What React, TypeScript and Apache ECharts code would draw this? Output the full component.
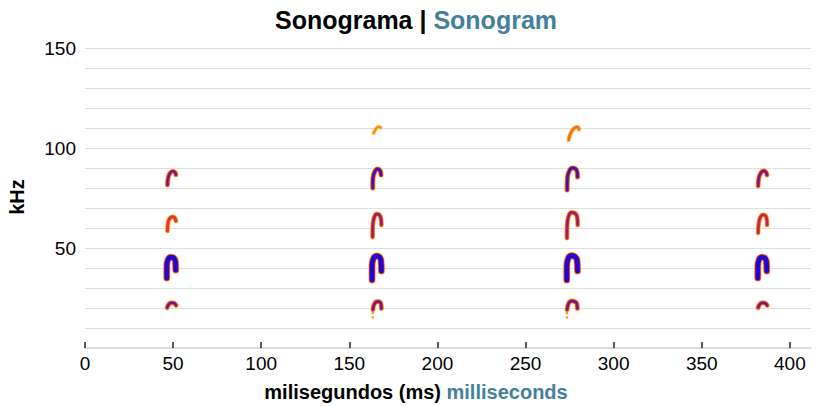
import React, { useEffect, useRef } from "react";
import * as echarts from "echarts";

// axis ticks
const xTicks = [0, 50, 100, 150, 200, 250, 300, 350, 400];
const yLabelValues = [50, 100, 150];

// contours of each harmonic, one per pulse: [ms, kHz]
const harmonic1 = [
  [[46.6, 20.2], [47.6, 21.9], [49.0, 22.6], [50.6, 22.4], [51.7, 21.3]],
  [[163.4, 19.2], [164.2, 22.0], [165.8, 23.2], [167.3, 23.0], [168.1, 21.5], [168.2, 19.8]],
  [[273.6, 19.2], [274.5, 22.4], [276.3, 23.5], [278.0, 23.2], [279.2, 22.0], [279.4, 19.8]],
  [[382.0, 20.2], [383.0, 21.9], [384.4, 22.6], [386.0, 22.4], [387.1, 21.3]],
];
const harmonic1Tails = [
  [[163.3, 14.8], [163.3, 19.0]],
  [[273.5, 14.8], [273.5, 19.0]],
];
const harmonic2 = [
  [[46.4, 35.0], [46.4, 41.0], [47.1, 44.2], [48.7, 45.4], [50.4, 45.0], [51.3, 43.2], [51.5, 39.0]],
  [[162.9, 34.0], [162.9, 41.0], [163.6, 44.5], [165.3, 46.0], [167.0, 45.6], [168.0, 43.6], [168.2, 38.5]],
  [[273.4, 34.0], [273.4, 41.0], [274.2, 44.8], [276.0, 46.2], [277.8, 45.8], [279.2, 44.0], [279.5, 38.5]],
  [[381.8, 35.0], [381.8, 41.0], [382.5, 44.2], [384.1, 45.4], [385.8, 45.0], [386.7, 43.2], [386.9, 38.5]],
];
const harmonic3 = [
  [[46.8, 58.5], [47.1, 62.5], [48.1, 64.8], [49.6, 65.6], [51.0, 65.0], [51.6, 63.5]],
  [[163.2, 55.5], [163.3, 61.0], [164.0, 65.0], [165.5, 67.0], [167.0, 66.6], [168.0, 64.5], [168.2, 61.5]],
  [[273.5, 55.0], [273.6, 61.0], [274.3, 65.5], [276.0, 67.8], [278.0, 67.4], [279.3, 65.5], [279.6, 61.5]],
  [[382.0, 57.5], [382.3, 62.0], [383.3, 65.5], [384.9, 66.6], [386.3, 66.0], [387.0, 63.5], [387.1, 61.5]],
];
const harmonic4 = [
  [[46.8, 81.5], [47.2, 85.2], [48.3, 87.5], [49.8, 88.4], [51.1, 87.8], [51.6, 86.6]],
  [[163.3, 80.0], [163.4, 85.0], [164.5, 88.3], [166.0, 89.5], [167.4, 88.8], [168.0, 86.5]],
  [[273.6, 79.0], [273.8, 85.0], [274.8, 88.5], [276.5, 90.0], [278.3, 89.6], [279.3, 88.0], [279.5, 85.5]],
  [[382.0, 81.0], [382.4, 85.0], [383.5, 87.5], [385.0, 88.6], [386.4, 88.0], [387.0, 86.5]],
];
const harmonic5 = [
  [[163.8, 107.5], [165.0, 109.4], [166.5, 110.6], [167.8, 110.2]],
  [[274.5, 104.0], [275.2, 106.5], [276.5, 108.8], [278.2, 110.3], [279.6, 110.5], [280.3, 109.3]],
];

// intensity level of each contour (1 weak .. 4 strongest)
const harmonic1Levels = [3, 3, 3, 3];
const harmonic2Levels = [4, 4, 4, 4];
const harmonic3Levels = [2, 2.5, 2.5, 2.2];
const harmonic4Levels = [3, 3.5, 3.5, 3];
const harmonic5Levels = [1, 1.5];

const FONT = "'Liberation Sans', Arial, Helvetica, sans-serif";
const TEAL = "#44809a";

type Layer = { w: number; c: string };
function layersFor(level: number): Layer[] {
  if (level <= 1) return [{ w: 3.8, c: "#fbbb3a" }, { w: 1.8, c: "#f7871f" }];
  if (level <= 1.5) return [{ w: 4.2, c: "#fbb02c" }, { w: 2.2, c: "#f26b21" }];
  if (level <= 2) return [{ w: 4.6, c: "#f9a825" }, { w: 3.0, c: "#e8342a" }];
  if (level <= 2.2) return [{ w: 4.6, c: "#f9a825" }, { w: 3.1, c: "#e0302c" }, { w: 1.0, c: "#9a2070" }];
  if (level <= 2.5) return [{ w: 4.8, c: "#f9a825" }, { w: 3.4, c: "#dc2a2f" }, { w: 1.4, c: "#7a1a90" }];
  if (level <= 3) return [{ w: 5, c: "#f9a825" }, { w: 3.6, c: "#dd2a2f" }, { w: 1.8, c: "#5a18a6" }];
  if (level <= 3.5) return [{ w: 5.2, c: "#f9a825" }, { w: 3.9, c: "#d9292f" }, { w: 2.4, c: "#3a0fc0" }];
  return [{ w: 7, c: "#f9a825" }, { w: 5.8, c: "#dc2a30" }, { w: 4.6, c: "#2006d6" }];
}

function buildSeries() {
  const groups: [number[][][], number[]][] = [
    [harmonic1, harmonic1Levels],
    [harmonic2, harmonic2Levels],
    [harmonic3, harmonic3Levels],
    [harmonic4, harmonic4Levels],
    [harmonic5, harmonic5Levels],
  ];
  const series: any[] = [];
  harmonic1Tails.forEach((pts) => {
    series.push({
      type: "line",
      data: pts,
      showSymbol: false,
      symbol: "none",
      silent: true,
      lineStyle: { width: 2.5, color: "#f7931e", type: [2, 2.5], cap: "butt" },
      z: 2,
    });
  });
  groups.forEach(([contours, levels]) => {
    contours.forEach((pts, i) => {
      layersFor(levels[i]).forEach((layer, li) => {
        series.push({
          type: "line",
          data: pts,
          smooth: 0.4,
          showSymbol: false,
          symbol: "none",
          silent: true,
          lineStyle: { width: layer.w, color: layer.c, cap: "round", join: "round" },
          z: 3 + li,
        });
      });
    });
  });
  return series;
}

export default function App() {
  const ref = useRef<HTMLDivElement>(null);
  useEffect(() => {
    document.body.style.margin = "0";
    if (!ref.current) return;
    const chart = echarts.init(ref.current, null, { renderer: "svg" });
    chart.setOption({
      animation: false,
      backgroundColor: "#ffffff",
      grid: { left: 85, right: 5, top: 48, bottom: 58, containLabel: false },
      xAxis: {
        type: "value",
        min: 0,
        max: 412,
        interval: 50,
        axisLine: { show: true, lineStyle: { color: "#d6d6d6", width: 1.5 } },
        axisTick: {
          show: true,
          inside: true,
          length: 6,
          customValues: xTicks,
          lineStyle: { color: "#222", width: 1.5 },
        },
        axisLabel: {
          customValues: xTicks,
          fontSize: 19,
          color: "#000",
          fontFamily: FONT,
          margin: 6,
        },
        splitLine: { show: false },
      },
      yAxis: {
        type: "value",
        min: 0,
        max: 150,
        interval: 10,
        axisLine: { show: false },
        axisTick: { show: false },
        axisLabel: {
          fontSize: 19,
          color: "#000",
          fontFamily: FONT,
          margin: 9,
          formatter: (v: number) => (yLabelValues.indexOf(v) >= 0 ? String(v) : ""),
        },
        splitLine: { show: true, lineStyle: { color: "#dedede", width: 1 } },
      },
      graphic: [
        {
          type: "text",
          x: 416,
          y: 20,
          style: {
            text: "{a|Sonograma | }{b|Sonogram}",
            align: "center",
            verticalAlign: "middle",
            textAlign: "center",
            textVerticalAlign: "middle",
            rich: {
              a: { fontSize: 25, fontWeight: "bold", fontFamily: FONT, fill: "#000", color: "#000" },
              b: { fontSize: 25, fontWeight: "bold", fontFamily: FONT, fill: TEAL, color: TEAL },
            },
          },
        },
        {
          type: "text",
          x: 416,
          y: 392,
          style: {
            text: "{a|milisegundos (ms) }{b|milliseconds}",
            align: "center",
            verticalAlign: "middle",
            textAlign: "center",
            textVerticalAlign: "middle",
            rich: {
              a: { fontSize: 20, fontWeight: "bold", fontFamily: FONT, fill: "#000", color: "#000" },
              b: { fontSize: 20, fontWeight: "bold", fontFamily: FONT, fill: TEAL, color: TEAL },
            },
          },
        },
        {
          type: "text",
          x: 17,
          y: 197,
          rotation: Math.PI / 2,
          style: {
            text: "kHz",
            font: `bold 20px ${FONT}`,
            fill: "#000",
            align: "center",
            verticalAlign: "middle",
            textAlign: "center",
            textVerticalAlign: "middle",
          },
        },
      ],
      series: buildSeries(),
    });
    return () => chart.dispose();
  }, []);
  return <div ref={ref} style={{ width: 816, height: 406 }} />;
}
